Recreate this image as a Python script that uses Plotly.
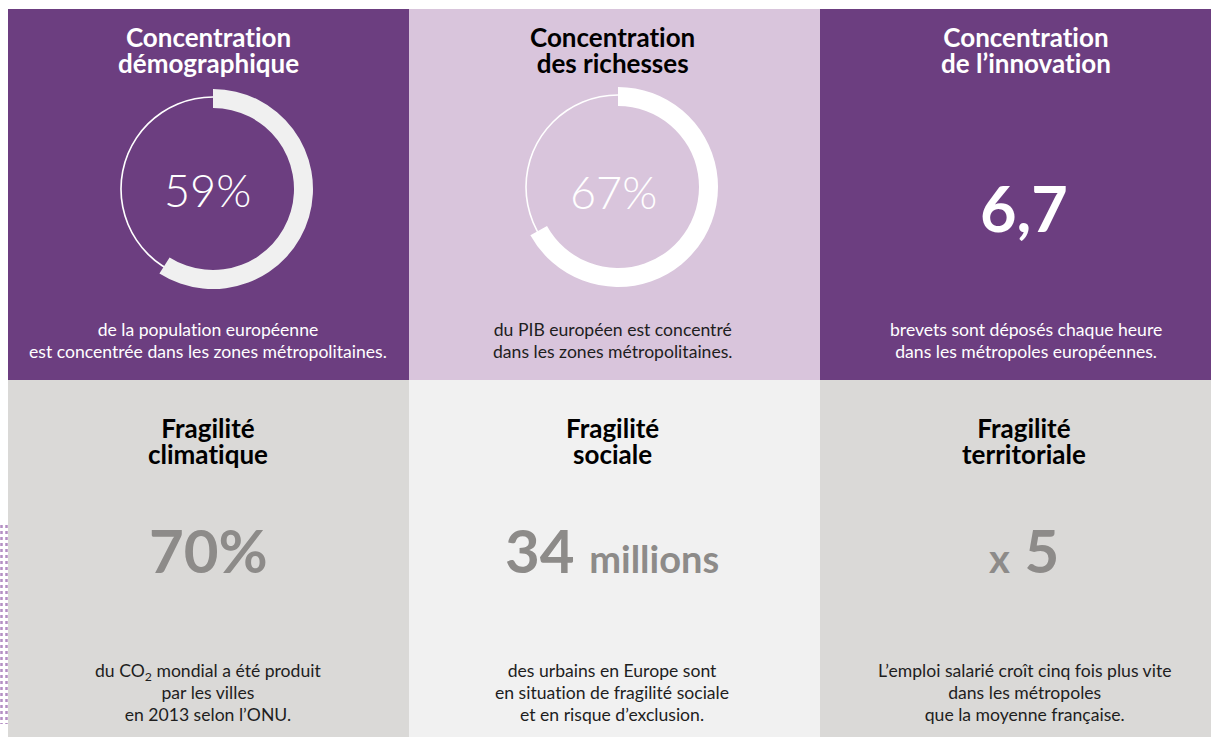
import plotly.graph_objects as go

W, H = 1211, 737

# ---------------- data ----------------
top_titles = [["Concentration", "démographique"],
              ["Concentration", "des richesses"],
              ["Concentration", "de l’innovation"]]
donut_shares = [59, 67]                      # % shown in the two rings
donut_labels = ["59%", "67%"]
innovation_value = "6,7"
top_descriptions = [["de la population européenne", "est concentrée dans les zones métropolitaines."],
                    ["du PIB européen est concentré", "dans les zones métropolitaines."],
                    ["brevets sont déposés chaque heure", "dans les métropoles européennes."]]

bottom_titles = [["Fragilité", "climatique"],
                 ["Fragilité", "sociale"],
                 ["Fragilité", "territoriale"]]
bottom_numbers = ["70%",
                  "34 <span style='font-size:38px'>millions</span>",
                  "<span style='font-size:40px'>x</span> 5"]
bottom_descriptions = [["du CO<sub>2</sub> mondial a été produit", "par les villes", "en 2013 selon l’ONU."],
                       ["des urbains en Europe sont", "en situation de fragilité sociale", "et en risque d’exclusion."],
                       ["L’emploi salarié croît cinq fois plus vite", "dans les métropoles", "que la moyenne française."]]

# ---------------- styles ----------------
PURPLE = "#6C3E80"
LAVENDER = "#D9C5DC"
GREY = "#DAD9D7"
LIGHT = "#F1F1F1"
NUM_GREY = "#8D8B89"
TXT_DARK = "#1E1E1E"
FONT = "Lato"

col_x = [(8, 409), (409, 820), (820, 1211)]
top_y = (9, 380)
bot_y = (380, 737)
top_fill = [PURPLE, LAVENDER, PURPLE]
bot_fill = [GREY, LIGHT, GREY]
center_x_top = [208, 612, 1026]
center_x_bot = [208, 612, 1024]
title_color_top = ["white", "black", "white"]
desc_color_top = ["white", TXT_DARK, "white"]

TITLE_PX, TITLE_GAP = 26, 26
DESC_PX, DESC_GAP = 17.6, 22

fig = go.Figure()

shapes = []
for (x0, x1), f in zip(col_x, top_fill):
    shapes.append(dict(type="rect", xref="x", yref="y", x0=x0, x1=x1, y0=top_y[0], y1=top_y[1],
                       fillcolor=f, line=dict(width=0), layer="below"))
for (x0, x1), f in zip(col_x, bot_fill):
    shapes.append(dict(type="rect", xref="x", yref="y", x0=x0, x1=x1, y0=bot_y[0], y1=bot_y[1],
                       fillcolor=f, line=dict(width=0), layer="below"))
# decorative dotted strip on the far left
for xd in (1.5, 6.5):
    shapes.append(dict(type="line", xref="x", yref="y", x0=xd, x1=xd, y0=525, y1=724,
                       line=dict(color="#B48FC3", width=2.5, dash="dot"), layer="below"))

# ---------------- donuts ----------------
donut_centers = [(213, 189), (618, 187)]
ring_colors = ["#F0F0F0", "#FFFFFF"]
R_OUT, R_IN, R_THIN = 100, 81, 92


def dom(cx, cy, r):
    return dict(x=[(cx - r) / W, (cx + r) / W], y=[1 - (cy + r) / H, 1 - (cy - r) / H])


for share, (cx, cy), rc in zip(donut_shares, donut_centers, ring_colors):
    # thin full track
    fig.add_trace(go.Pie(values=[100], domain=dom(cx, cy, R_THIN + 0.8), hole=(R_THIN - 0.8) / (R_THIN + 0.8),
                         marker=dict(colors=["white"], line=dict(width=0)), textinfo="none",
                         hoverinfo="skip", showlegend=False, sort=False))
    # thick value arc
    fig.add_trace(go.Pie(values=[share, 100 - share], domain=dom(cx, cy, R_OUT), hole=R_IN / R_OUT,
                         marker=dict(colors=[rc, "rgba(0,0,0,0)"], line=dict(width=0)),
                         textinfo="none", hoverinfo="skip", showlegend=False, sort=False,
                         direction="clockwise", rotation=0))

ann = []


def text(x, y, s, size, color, weight="normal", family=FONT):
    ann.append(dict(x=x, y=y, xref="x", yref="y", text=s, showarrow=False, xanchor="center",
                    yanchor="middle", font=dict(family=family, size=size, color=color, weight=weight)))


def block(x, y, lines, px, gap, color, weight="normal"):
    # line spacing = 1.3 * base font size; glyphs drawn at px via span
    s = "<br>".join(f"<span style='font-size:{px}px;font-variant-ligatures:none'>{l}</span>" for l in lines)
    text(x, y, s, gap / 1.3, color, weight=weight)


# donut labels
donut_label_x = [207, 613]
donut_label_y = [190, 192]
for lab, x, y in zip(donut_labels, donut_label_x, donut_label_y):
    text(x, y, lab, 45, "white", weight=300)

# innovation number
text(center_x_top[2] - 2, 207, innovation_value, 63, "white", weight="bold")

# top titles and descriptions
for i in range(3):
    block(center_x_top[i], 50, top_titles[i], TITLE_PX, TITLE_GAP, title_color_top[i], weight="bold")
    block(center_x_top[i], 340, top_descriptions[i], DESC_PX, DESC_GAP, desc_color_top[i])

# bottom titles, numbers, descriptions
for i in range(3):
    block(center_x_bot[i], 441, bottom_titles[i], TITLE_PX, TITLE_GAP, "black", weight="bold")
    text(center_x_bot[i], 550, bottom_numbers[i], 60, NUM_GREY, weight="bold")
    block(center_x_bot[i], 692, bottom_descriptions[i], DESC_PX, DESC_GAP, TXT_DARK)

fig.update_layout(
    width=W, height=H, margin=dict(l=0, r=0, t=0, b=0),
    paper_bgcolor="white", plot_bgcolor="rgba(0,0,0,0)",
    xaxis=dict(range=[0, W], visible=False, fixedrange=True),
    yaxis=dict(range=[H, 0], visible=False, fixedrange=True),
    shapes=shapes, annotations=ann, showlegend=False,
)

fig.write_html("out.html", config={"displayModeBar": False},
               post_script="document.body.style.margin='0';document.body.style.overflow='hidden';")
